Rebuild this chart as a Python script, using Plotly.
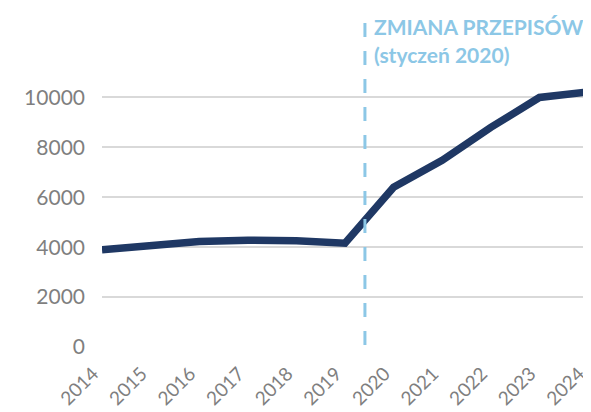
import plotly.graph_objects as go

years = [2014, 2015, 2016, 2017, 2018, 2019, 2020, 2021, 2022, 2023, 2024]
values = [3900, 4040, 4230, 4280, 4260, 4160, 6400, 7480, 8800, 10000, 10220]
y_ticks = [0, 2000, 4000, 6000, 8000, 10000]

fig = go.Figure()
fig.add_trace(go.Scatter(
    x=years, y=values, mode="lines",
    line=dict(color="#1f3864", width=7.5),
    hoverinfo="skip", showlegend=False,
))

blue = "#8cc7e6"
fig.add_shape(type="line", xref="x", yref="paper", x0=2019.41, x1=2019.41,
              y0=0.008, y1=1.257, line=dict(color=blue, width=3, dash="14px,14px"))
fig.add_annotation(x=2019.56, xref="x", yref="paper", y=1.223, text="<b>ZMIANA PRZEPISÓW</b>",
                   showarrow=False, xanchor="left", yanchor="middle",
                   font=dict(color=blue, size=21, family="Lato"))
fig.add_annotation(x=2019.56, xref="x", yref="paper", y=1.116, text="<b>(styczeń 2020)</b>",
                   showarrow=False, xanchor="left", yanchor="middle",
                   font=dict(color=blue, size=21, family="Lato"))

fig.update_layout(
    width=583, height=404,
    margin=dict(l=94, r=3, t=76.5, b=65, autoexpand=False),
    paper_bgcolor="white", plot_bgcolor="white",
    font=dict(family="Lato", color="#808080"),
    xaxis=dict(range=[2014, 2024], tickvals=years, ticktext=[str(y) for y in years],
               tickangle=-45, showgrid=False, zeroline=False, showline=False,
               tickfont=dict(size=19, color="#7f7f7f"), ticks="", automargin=False,
               ticklabeloverflow="allow", ticklabelstandoff=11, ticklabelshift=-9),
    yaxis=dict(range=[0, 10500], tickvals=y_ticks, ticktext=[str(v) for v in y_ticks],
               showgrid=True, gridcolor="#d9d9d9",
               gridwidth=1.5, zeroline=False, showline=False, automargin=False,
               tickfont=dict(size=21, color="#7f7f7f"), ticks="", ticklabelstandoff=16),
)

fig.write_html("out.html")
